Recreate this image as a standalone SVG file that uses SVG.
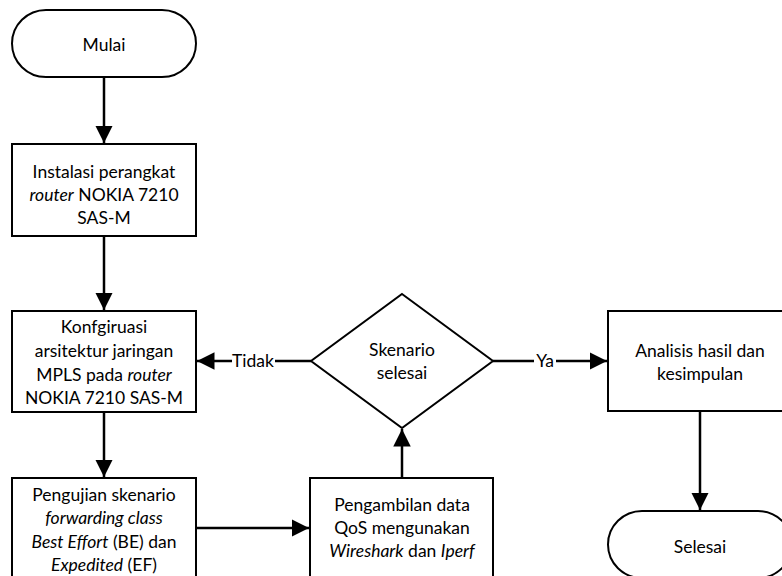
<svg xmlns="http://www.w3.org/2000/svg" width="782" height="576" viewBox="0 0 782 576">
<style>
.s{fill:#fff;stroke:#000;stroke-width:2}
.c{fill:none;stroke:#000;stroke-width:2.5}
text{font-family:"Lato","Open Sans",sans-serif;font-size:17.5px;fill:#000;text-anchor:middle}
.i{font-style:italic}
.lb{fill:#fff;stroke:none}
</style>
<defs>
<marker id="a" viewBox="0 0 10 10" refX="10" refY="5" markerWidth="7" markerHeight="7" orient="auto" markerUnits="strokeWidth">
<path d="M0,0 L10,5 L0,10 Z" fill="#000"/>
</marker>
</defs>
<g id="connectors">
<line class="c" x1="104" y1="77" x2="104" y2="143" marker-end="url(#a)"/>
<line class="c" x1="104" y1="236" x2="104" y2="310" marker-end="url(#a)"/>
<line class="c" x1="104" y1="412" x2="104" y2="477" marker-end="url(#a)"/>
<line class="c" x1="196" y1="528" x2="309" y2="528" marker-end="url(#a)"/>
<line class="c" x1="402" y1="478" x2="402" y2="429" marker-end="url(#a)"/>
<line class="c" x1="311" y1="361" x2="197" y2="361" marker-end="url(#a)"/>
<line class="c" x1="493" y1="361" x2="607" y2="361" marker-end="url(#a)"/>
<line class="c" x1="700" y1="411" x2="700" y2="510" marker-end="url(#a)"/>
<rect class="lb" x="232" y="351" width="43" height="20"/>
<text x="253" y="367">Tidak</text>
<rect class="lb" x="534" y="351" width="22" height="20"/>
<text x="545" y="367">Ya</text>
</g>
<g id="mulai">
<path class="s" d="M46,10 H162 A34,33.5 0 0 1 162,77 H46 A34,33.5 0 0 1 46,10 Z"/>
<text x="104" y="51">Mulai</text>
</g>
<g id="instalasi">
<rect class="s" x="12" y="144" width="184" height="92"/>
<text x="104" y="178">Instalasi perangkat</text>
<text x="104" y="201"><tspan class="i">router</tspan> NOKIA 7210</text>
<text x="104" y="224">SAS-M</text>
</g>
<g id="konfigurasi">
<rect class="s" x="12" y="311" width="184" height="101"/>
<text x="104" y="333">Konfgiruasi</text>
<text x="104" y="357">arsitektur jaringan</text>
<text x="104" y="381">MPLS pada <tspan class="i">router</tspan></text>
<text x="104" y="404">NOKIA 7210 SAS-M</text>
</g>
<g id="pengujian">
<rect class="s" x="12" y="478" width="184" height="110"/>
<text x="104" y="501">Pengujian skenario</text>
<text x="104" y="524" class="i">forwarding class</text>
<text x="104" y="548"><tspan class="i">Best Effort</tspan> (BE) dan</text>
<text x="104" y="571"><tspan class="i">Expedited</tspan> (EF)</text>
</g>
<g id="pengambilan">
<rect class="s" x="310" y="478" width="183" height="110"/>
<text x="402" y="511">Pengambilan data</text>
<text x="402" y="534">QoS mengunakan</text>
<text x="402" y="557"><tspan class="i">Wireshark</tspan> dan <tspan class="i">Iperf</tspan></text>
</g>
<g id="skenario">
<polygon class="s" points="402,294 493,361 402,428 311,361"/>
<text x="402" y="356">Skenario</text>
<text x="402" y="379">selesai</text>
</g>
<g id="analisis">
<rect class="s" x="608" y="311" width="184" height="100"/>
<text x="700" y="357">Analisis hasil dan</text>
<text x="700" y="380">kesimpulan</text>
</g>
<g id="selesai">
<path class="s" d="M642,511 H758 A34,33.5 0 0 1 758,578 H642 A34,33.5 0 0 1 642,511 Z"/>
<text x="700" y="553">Selesai</text>
</g>
</svg>
